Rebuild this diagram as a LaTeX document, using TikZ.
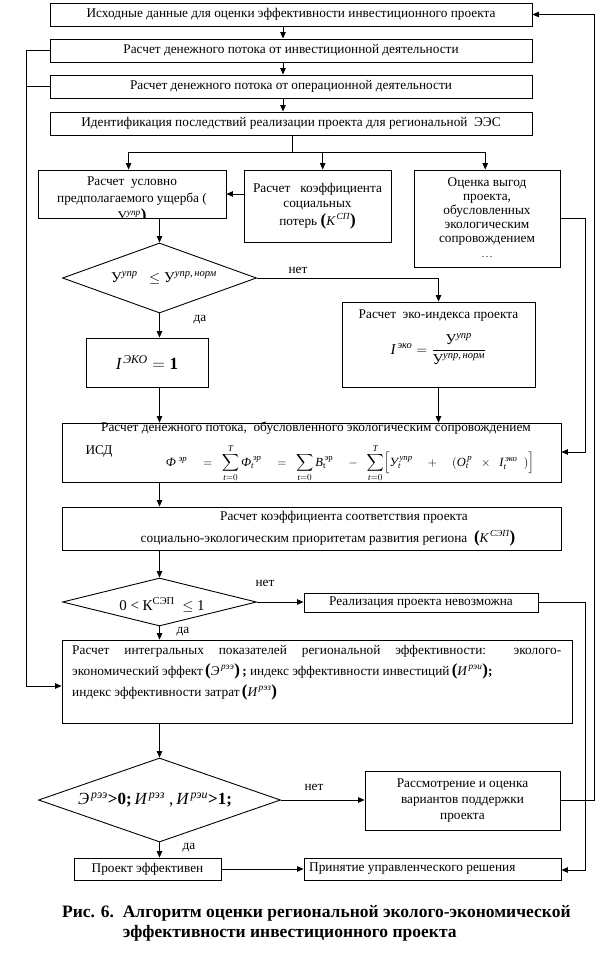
\documentclass[tikz,border=0pt]{standalone}
\usepackage{amsmath}
\usepackage{fontspec}
\setmainfont{Liberation Serif}
\usetikzlibrary{arrows.meta,shapes.geometric}
\newcommand{\ti}[1]{\text{\itshape #1}}
\newcommand{\tu}[1]{\text{\upshape #1}}
\newcommand{\bp}[1]{{\fontsize{17}{17}\selectfont\bfseries #1}}
\newcommand{\bodyf}{\fontsize{13.3}{15}\selectfont}
\newcommand\rb[6][]{\node[box,#1,minimum width=#4pt-#2pt,minimum height=#5pt-#3pt] (#6) at ({(#2+#4)/2},{(#3+#5)/2})}
\tikzset{
 box/.style={draw, line width=0.9pt, inner sep=0pt, align=center, font=\bodyf},
 dia/.style={draw, diamond, line width=0.9pt, inner sep=0pt},
 arr/.style={-{Triangle[length=6.5pt,width=5.5pt]}, line width=0.9pt},
 ln/.style={line width=0.9pt},
 lbl/.style={font=\bodyf, inner sep=0pt},
}
\begin{document}
\begin{tikzpicture}[x=1pt,y=-1pt]
\useasboundingbox (0,0) rectangle (604,953);
% helper coordinates
\coordinate (cx) at (283,0);
\coordinate (c4) at (292,0);
\coordinate (sp) at (0,152);
\coordinate (xa) at (128.6,0);
\coordinate (xb) at (322.7,0);
\coordinate (xc) at (485.2,0);
\coordinate (xm) at (159.5,0);
\coordinate (lx) at (26,0);
\coordinate (r1) at (585,0);
\coordinate (r2) at (594,0);
\coordinate (yab) at (0,194);
\coordinate (yc) at (0,218);
\coordinate (yf) at (0,452);
\coordinate (yl) at (0,870);
\coordinate (yi) at (0,686);
% top boxes
\rb{50}{3}{532}{26}{b1}{Исходные данные для оценки эффективности инвестиционного проекта};
\rb{50}{39}{532}{62}{b2}{Расчет денежного потока от инвестиционной деятельности};
\rb{50}{75}{532}{98}{b3}{Расчет денежного потока от операционной деятельности};
\rb{50}{112}{532}{135}{b4}{Идентификация последствий реализации проекта для региональной\ \ ЭЭС};
% row of three
\rb{38}{170}{226}{218}{bA}{};
\begin{scope}
\clip (bA.north west) rectangle (bA.south east);
\node[lbl, align=center, anchor=north, font=\fontsize{13.3}{16.5}\selectfont] (tA) at (132,177) {Расчет\ \ условно\\предполагаемого ущерба (\\[2pt] $\tu{У}^{\ti{упр}}$\bp{)}};
\end{scope}
\rb{244}{170}{391}{242}{bB}{Расчет\ \ \ коэффициента\\социальных\\[3pt]потерь \bp{(}$\ti{К}^{\,\ti{СП}}$\bp{)}};
\rb[font=\fontsize{13.3}{14}\selectfont]{414}{170}{560}{267}{bC}{Оценка выгод\\проекта,\\обусловленных\\экологическим\\сопровождением\\[2pt]{\scriptsize - - -}};
% diamond 1
\node[dia, minimum width=194pt, minimum height=70pt] (d1) at (159.5,278) {};
\node[lbl] (t1) at (164,278) {\fontsize{15}{15}\selectfont $\tu{У}^{\ti{упр}}\ \ \le \tu{У}^{\ti{упр,\,норм}}$};
\rb{342}{302}{535}{387}{bD}{};
\node[lbl] (dt) at (438.5,316) {Расчет\ \ эко-индекса проекта};
\node[lbl] (df) at (438.5,349) {\fontsize{15}{15}\selectfont $\ti{I}^{\,\ti{эко}} = \dfrac{\tu{У}^{\ti{упр}}}{\tu{У}^{\ti{упр,\,норм}}}$};
\rb{86}{338}{208}{387}{bE}{\fontsize{17}{17}\selectfont $\ti{I}^{\,\ti{ЭКО}} = \text{\bfseries 1}$};
% ISD box
\rb{62}{423}{561}{482}{bF}{};
\node[lbl] (f1) at (316,428) {Расчет денежного потока,\ \ обусловленного экологическим сопровождением};
\node[lbl] (f2) at (99,452) {ИСД};
\node[lbl, font=\fontsize{12.5}{14}\selectfont] (f3) at (350,463) {$\displaystyle\ti{Ф}^{\;\ti{эр}}\quad=\ \ \sum_{\ti{t}=0}^{\ti{T}} \ti{Ф}_{\ti{t}}^{\,\ti{эр}}\quad=\ \ \sum_{\ti{t}=0} \ti{B}_{\tu{t}}^{\,\tu{эр}}\quad-\ \ \sum_{\ti{t}=0}^{\ti{T}}\Bigl[\ti{У}_{\ti{t}}^{\,\ti{упр}}\quad+\quad(\ti{O}_{\ti{t}}^{\,\ti{р}}\ \ \times\ \ \ti{I}_{\ti{t}}^{\,\ti{эко}}\ \ )\Bigr]$};
% G box
\rb{62}{507}{561}{550}{bG}{};
\node[lbl] (g1) at (344,517) {Расчет коэффициента соответствия проекта};
\node[lbl] (g2) at (328,538) {социально-экологическим приоритетам развития региона\ \ \bp{(}$\ti{К}^{\,\ti{СЭП}}$\bp{)}};
% diamond 2
\node[dia, minimum width=194pt, minimum height=48pt] (d2) at (159.5,602) {};
\node[lbl] (t2) at (162,605) {\fontsize{15}{15}\selectfont 0 < К\textsuperscript{СЭП}\ \ $\le$ 1};
\rb{304}{593}{538}{612}{bH}{Реализация проекта невозможна};
% I box
\rb{62}{640}{572}{723}{bI}{};
\node[lbl, anchor=north west, text width=489pt, align=justify, font=\fontsize{13.3}{21}\selectfont] (tI) at (72,645) {Расчет интегральных показателей региональной эффективности: эколого-\linebreak экономический эффект\,\bp{(}$\ti{Э}^{\,\ti{рээ}}$\bp{)}\,\textbf{;} индекс эффективности инвестиций\,\bp{(}$\ti{И}^{\,\ti{рэи}}$\bp{)}\textbf{;}\newline индекс эффективности затрат\,\bp{(}$\ti{И}^{\,\ti{рэз}}$\bp{)}};
% diamond 3
\node[dia, minimum width=242pt, minimum height=84pt] (d3) at (159.5,800) {};
\node[lbl] (t3) at (155,800) {\fontsize{17}{17}\selectfont $\ti{Э}^{\,\ti{рээ}}$\textbf{>0;}\,$\ti{И}^{\,\ti{рэз}}$\ ,\,$\ti{И}^{\,\ti{рэи}}$\textbf{>1;}};
\rb[font=\fontsize{13.3}{16}\selectfont]{365}{771}{560}{830}{bJ}{Рассмотрение и оценка\\вариантов поддержки\\проекта};
\rb{74}{858}{221}{880}{bK}{Проект эффективен};
\rb{304}{858}{561}{880}{bL}{};
\node[lbl, anchor=west] (tL) at (309,869) {Принятие управленческого решения};
% labels
\node[lbl] (n1) at (298,270) {нет};
\node[lbl] (y1) at (200,320) {да};
\node[lbl] (n2) at (265,583) {нет};
\node[lbl] (y2) at (183,632) {да};
\node[lbl] (n3) at (314,787) {нет};
\node[lbl] (y3) at (189,848) {да};
% caption
\node[anchor=west, align=left, font=\fontsize{17.5}{20}\selectfont\bfseries, inner sep=0pt] (cap) at (62,923) {Рис. 6.\ \ Алгоритм оценки региональной эколого-экономической\\\phantom{Рис. 6.\ \ }эффективности инвестиционного проекта};
% connectors
\draw[arr] (b1.south -| cx) -- (b2.north -| cx);
\draw[arr] (b2.south -| cx) -- (b3.north -| cx);
\draw[arr] (b3.south -| cx) -- (b4.north -| cx);
\draw[ln] (b4.south -| c4) -- (c4 |- sp);
\draw[ln] (xa |- sp) -- (xc |- sp);
\draw[arr] (xa |- sp) -- (bA.north -| xa);
\draw[arr] (xb |- sp) -- (bB.north -| xb);
\draw[arr] (xc |- sp) -- (bC.north -| xc);
\draw[arr] (bB.west |- yab) -- (bA.east |- yab);
\draw[arr] (bA.south -| xm) -- (d1.north);
\draw[arr] (d1.east) -- (d1.east -| bD.north) -- (bD.north);
\draw[arr] (d1.south) -- (bE.north -| xm);
\draw[arr] (bE.south -| xm) -- (bF.north -| xm);
\draw[arr] (bD.south) -- (bF.north -| bD.south);
\draw[arr] (bF.south -| xm) -- (bG.north -| xm);
\draw[arr] (bG.south -| xm) -- (d2.north);
\draw[arr] (d2.east) -- (bH.west |- d2.east);
\draw[arr] (d2.south) -- (bI.north -| xm);
\draw[arr] (bI.south -| xm) -- (d3.north);
\draw[arr] (d3.east) -- (bJ.west |- d3.east);
\draw[arr] (d3.south) -- (bK.north -| xm);
\draw[arr] (bK.east) -- (bL.west);
\draw[arr] (bC.east |- yc) -- (r1 |- yc) -- (r1 |- yf) -- (bF.east |- yf);
\draw[arr] (bH.east) -- (r1 |- bH.east) -- (r1 |- yl) -- (bL.east |- yl);
\draw[arr] (bJ.east) -- (r2 |- bJ.east) -- (r2 |- b1.east) -- (b1.east);
\draw[ln] (b3.west) -- (lx |- b3.west);
\draw[arr] (b2.west) -- (lx |- b2.west) -- (lx |- yi) -- (bI.west |- yi);
\end{tikzpicture}
\end{document}
